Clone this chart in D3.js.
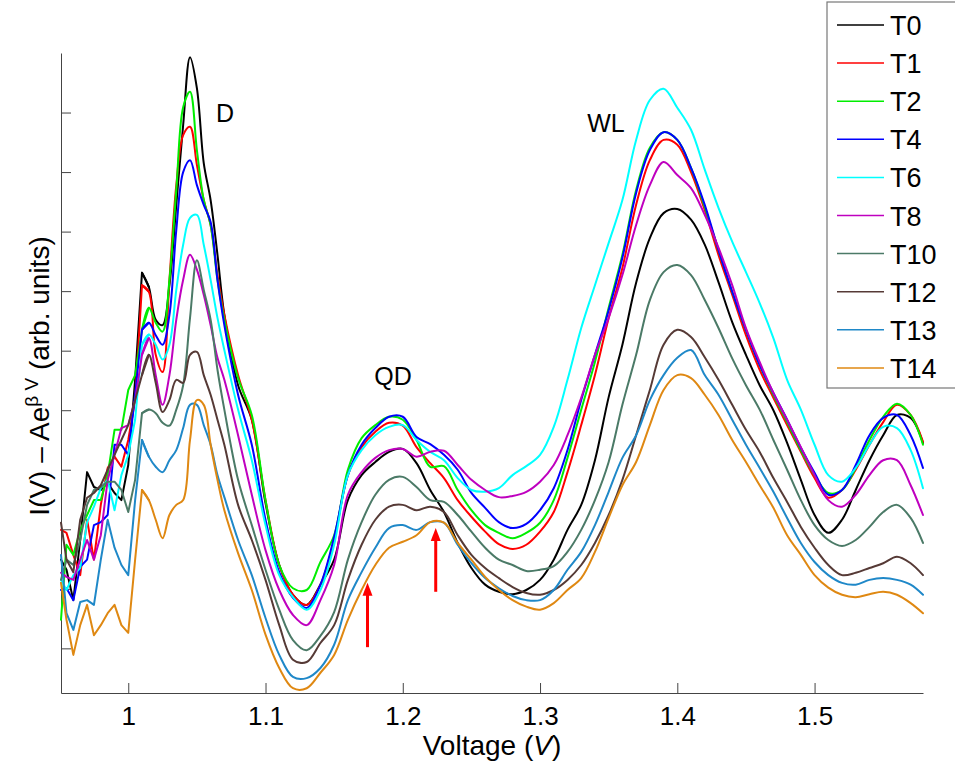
<!DOCTYPE html>
<html><head><meta charset="utf-8">
<script src="https://cdn.jsdelivr.net/npm/d3@7"></script>
<style>
html,body{margin:0;padding:0;background:#fff;}
svg{display:block;font-family:"Liberation Sans",Arial,Helvetica,sans-serif;}
</style></head><body>
<svg id="chart" width="955" height="765"></svg>
<script>
// ---------- DATA ----------
const voltage = [0.951,0.955,0.96,0.965,0.97,0.975,0.98,0.985,0.99,0.995,
  1.0,1.005,1.01,1.015,1.02,1.025,1.03,1.035,1.04,1.045,
  1.05,1.055,1.06,1.065,1.07,
  1.08,1.09,1.10,1.11,1.12,1.13,1.14,1.15,1.16,1.17,
  1.18,1.19,1.20,1.21,1.22,1.23,1.24,1.25,1.26,1.27,
  1.28,1.29,1.30,1.31,1.32,1.33,1.34,1.35,1.36,1.37,
  1.38,1.39,1.40,1.41,1.42,1.43,1.44,1.45,1.46,1.47,
  1.48,1.49,1.50,1.51,1.52,1.53,1.54,1.55,1.56,1.57,1.579];

const seriesNames = ["T0","T1","T2","T4","T6","T8","T10","T12","T13","T14"];
const seriesColors = ["#000000","#ff0000","#00ee00","#0000ff","#00ffff","#bf00bf","#4b7a67","#563a36","#1f88c8","#df8812"];

const T0 = [1.49,1.32,0.81,1.82,2.96,2.71,2.66,2.78,2.61,2.49,
  3.08,4.51,6.31,6.07,5.52,5.43,6.10,7.45,8.79,9.93,
  9.41,8.15,7.53,6.61,5.60,
  4.42,3.84,2.44,1.40,0.90,0.73,1.07,1.49,2.49,2.91,
  3.13,3.30,3.35,3.11,2.66,2.29,1.77,1.35,1.07,0.95,
  0.91,0.98,1.15,1.49,1.99,2.41,3.16,4.22,5.10,6.14,
  6.89,7.31,7.38,7.20,6.78,6.15,5.48,4.93,4.42,4.00,
  3.45,2.83,2.24,1.94,2.16,2.66,3.16,3.58,3.92,3.87,3.45];
const T1 = [1.99,1.94,1.57,1.23,2.16,1.49,2.41,3.03,3.22,3.05,
  3.50,4.17,6.10,5.99,4.93,4.64,6.19,7.78,8.62,8.76,
  8.12,7.53,7.11,6.27,5.60,
  4.59,3.84,2.49,1.40,0.90,0.73,1.07,1.82,2.91,3.38,
  3.64,3.79,3.74,3.38,3.11,2.86,2.49,2.21,1.96,1.75,
  1.67,1.74,1.96,2.29,2.96,3.75,4.59,5.55,6.39,7.45,
  8.20,8.54,8.46,8.00,7.36,6.61,5.94,5.26,4.68,4.21,
  3.75,3.30,2.86,2.53,2.66,3.00,3.42,3.80,4.09,3.92,3.47];
const T2 = [0.48,1.74,1.57,1.99,2.24,2.49,2.49,2.91,3.67,3.67,
  4.34,4.59,5.35,5.72,5.47,5.32,6.19,7.70,9.09,9.35,
  8.37,7.53,7.11,6.19,5.52,
  4.54,3.92,2.49,1.40,1.01,0.98,1.45,1.90,3.00,3.53,
  3.75,3.89,3.84,3.50,3.05,3.06,2.66,2.32,2.07,1.94,
  1.85,1.94,2.11,2.49,3.20,4.01,4.81,5.72,6.61,7.70,
  8.41,8.67,8.54,8.07,7.41,6.69,5.99,5.35,4.76,4.26,
  3.80,3.33,2.91,2.61,2.66,3.03,3.50,3.89,4.11,3.92,3.42];
const T4 = [0.98,1.01,0.81,1.37,1.49,2.07,2.12,2.24,3.42,3.42,
  3.25,4.26,5.35,5.47,5.26,5.10,5.60,7.03,8.00,8.20,
  7.78,7.45,7.16,6.19,5.43,
  4.26,3.42,2.16,1.28,0.85,0.68,1.07,1.87,2.91,3.42,
  3.70,3.89,3.89,3.55,3.43,3.25,3.00,2.61,2.36,2.12,
  2.02,2.09,2.32,2.69,3.33,4.17,4.93,5.68,6.56,7.65,
  8.37,8.67,8.54,8.07,7.45,6.69,5.99,5.35,4.76,4.29,
  3.84,3.37,2.95,2.58,2.66,3.08,3.58,3.87,3.92,3.58,3.03];
const T6 = [1.15,0.98,1.23,1.35,2.12,2.38,2.69,2.83,2.32,2.91,
  3.25,3.84,5.10,5.27,5.10,4.85,5.10,6.02,6.78,7.23,
  7.28,6.78,6.19,5.55,5.01,
  4.01,3.16,2.07,1.23,0.86,0.65,0.98,1.74,2.91,3.33,
  3.58,3.72,3.75,3.50,3.30,3.16,2.86,2.66,2.63,2.69,
  2.91,3.06,3.25,3.72,4.51,5.38,6.10,6.81,7.53,8.54,
  9.21,9.40,9.08,8.71,8.04,7.40,6.83,6.32,5.80,5.21,
  4.51,4.01,3.42,2.91,2.80,3.03,3.42,3.72,3.70,3.33,2.69];
const T8 = [1.27,1.20,1.15,1.49,1.82,1.49,1.90,2.83,3.25,3.70,
  3.75,4.17,4.93,5.21,4.59,4.09,4.59,5.52,6.19,6.61,
  6.36,5.94,5.43,4.88,4.51,
  3.58,2.58,1.65,0.98,0.56,0.39,0.81,1.40,2.58,2.96,
  3.20,3.33,3.35,3.22,3.30,3.32,3.08,2.83,2.66,2.54,
  2.56,2.63,2.80,3.08,3.58,4.21,4.93,5.55,6.27,7.11,
  7.78,8.17,7.95,7.73,7.28,6.73,6.10,5.38,4.81,4.29,
  3.84,3.38,2.91,2.49,2.38,2.58,2.91,3.16,3.16,2.74,2.24];
const T10 = [1.15,1.49,1.40,1.82,2.41,2.66,2.71,2.80,2.80,2.66,
  2.29,2.83,3.95,4.01,3.95,3.79,3.74,4.01,4.42,5.55,
  6.52,6.02,5.52,4.68,4.01,
  2.83,2.07,1.32,0.65,0.14,-0.03,0.21,0.61,1.49,2.12,
  2.58,2.83,2.88,2.71,2.49,2.46,2.24,1.96,1.69,1.49,
  1.40,1.30,1.32,1.38,1.62,1.99,2.49,3.13,4.09,4.93,
  5.85,6.32,6.44,6.27,5.85,5.38,4.87,4.42,4.01,3.50,
  3.00,2.49,2.07,1.82,1.72,1.82,2.04,2.29,2.41,2.19,1.77];
const T12 = [2.11,1.49,1.28,2.16,2.53,2.61,2.74,3.00,3.25,3.50,
  3.75,4.17,4.59,4.93,4.46,3.97,4.17,4.51,4.46,4.93,
  4.98,4.59,4.26,3.84,3.42,
  2.41,1.82,1.15,0.39,-0.19,-0.23,0.09,0.39,1.15,1.74,
  2.16,2.38,2.41,2.32,2.38,2.29,1.90,1.57,1.35,1.18,
  1.03,0.93,0.90,0.98,1.15,1.40,1.77,2.24,2.83,3.58,
  4.34,5.10,5.35,5.23,4.89,4.51,4.09,3.67,3.30,2.86,
  2.46,2.04,1.69,1.40,1.23,1.27,1.35,1.43,1.54,1.43,1.23];
const T13 = [1.57,0.59,0.31,0.78,0.81,0.73,1.49,2.16,1.69,1.40,
  1.23,2.49,3.50,3.22,3.05,2.96,3.16,3.33,3.70,4.09,
  4.09,3.75,3.42,2.91,2.54,
  1.82,1.23,0.51,-0.11,-0.48,-0.50,-0.33,0.06,0.81,1.28,
  1.69,2.02,2.07,1.99,2.12,2.11,1.74,1.43,1.18,1.01,
  0.88,0.81,0.81,0.98,1.32,1.62,2.07,2.63,3.20,3.58,
  4.17,4.59,4.88,5.01,4.59,4.26,3.84,3.42,3.03,2.63,
  2.19,1.77,1.45,1.23,1.10,1.07,1.15,1.18,1.15,1.07,0.90];
const T14 = [1.10,0.48,-0.11,0.39,0.73,0.22,0.39,0.59,0.73,0.39,
  0.26,1.49,2.66,2.49,2.16,1.85,2.24,2.41,2.49,3.50,
  4.17,4.09,3.42,2.83,2.32,
  1.60,0.98,0.23,-0.33,-0.67,-0.67,-0.41,-0.11,0.48,0.98,
  1.40,1.69,1.79,1.90,2.12,2.11,1.77,1.49,1.20,0.98,
  0.81,0.70,0.65,0.76,0.98,1.18,1.62,2.19,2.74,3.13,
  3.75,4.34,4.59,4.54,4.26,3.92,3.50,3.13,2.74,2.36,
  1.90,1.57,1.23,1.02,0.90,0.86,0.91,0.95,0.90,0.76,0.59];

const seriesValues = [T0,T1,T2,T4,T6,T8,T10,T12,T13,T14];

const xTicks = [1,1.1,1.2,1.3,1.4,1.5];
const xTickLabels = ["1","1.1","1.2","1.3","1.4","1.5"];
const yTicks = [0,1,2,3,4,5,6,7,8,9];

// annotations: [label, voltage, value]
const peakLabels = [["D",1.0705,8.84],["QD",1.1929,4.42],["WL",1.348,8.67]];
// arrows: [voltage, tail value, tip value]
const arrows = [[1.1743,0.02,1.10],[1.2240,0.95,2.02]];

// ---------- CHART ----------
const svg = d3.select("#chart");
const x = d3.scaleLinear().domain([0.951,1.579]).range([61,923]);
const y = d3.scaleLinear().domain([-0.75,10]).range([693,53]);

const axisColor = "#444";

const gx = svg.append("g").attr("transform","translate(0,"+y(-0.75)+")")
  .call(d3.axisBottom(x).tickValues(xTicks).tickFormat((d,i)=>xTickLabels[i])
    .tickSizeInner(-10).tickSizeOuter(0).tickPadding(14));
gx.select(".domain").attr("stroke",axisColor);
gx.selectAll(".tick line").attr("stroke",axisColor);
gx.selectAll(".tick text").attr("fill","#000").style("font-size","26px")
  .style("font-family","'Liberation Sans',Arial,sans-serif");

const gy = svg.append("g").attr("transform","translate("+x(0.951)+",0)")
  .call(d3.axisLeft(y).tickValues(yTicks).tickFormat("")
    .tickSizeInner(-10).tickSizeOuter(0));
gy.select(".domain").attr("stroke",axisColor);
gy.selectAll(".tick line").attr("stroke",axisColor);

// noisy low-voltage part drawn with straight segments, smooth part with a spline
const splitIndex = 12;
const lineNoisy = d3.line()
  .x(d=>x(d.v)).y(d=>y(d.i))
  .curve(d3.curveLinear);
const lineSmooth = d3.line()
  .x(d=>x(d.v)).y(d=>y(d.i))
  .curve(d3.curveCatmullRom.alpha(0.5));

const gl = svg.append("g");
seriesValues.forEach((vals,k)=>{
  const pts = vals.map((val,j)=>({v:voltage[j], i:val}));
  const p1 = pts.slice(0, splitIndex+2);
  const p2 = pts.slice(splitIndex);
  [ [p1,lineNoisy], [p2,lineSmooth] ].forEach(([p,gen])=>{
    gl.append("path").attr("d",gen(p))
      .attr("fill","none")
      .attr("stroke",seriesColors[k])
      .attr("stroke-width",2)
      .attr("stroke-linejoin","round")
      .attr("stroke-linecap","round");
  });
});

// peak labels
svg.append("g").selectAll("text").data(peakLabels).join("text")
  .attr("x",d=>x(d[1])).attr("y",d=>y(d[2]))
  .attr("text-anchor","middle")
  .style("font-size","25px").attr("fill","#000")
  .text(d=>d[0]);

// red arrows
const ga = svg.append("g");
arrows.forEach(a=>{
  const ax = x(a[0]), yTail = y(a[1]), yTip = y(a[2]);
  ga.append("line").attr("x1",ax).attr("x2",ax)
    .attr("y1",yTail).attr("y2",yTip+11)
    .attr("stroke","#ff0000").attr("stroke-width",3);
  ga.append("path")
    .attr("d","M"+ax+","+yTip+"L"+(ax-5)+","+(yTip+13)+"L"+(ax+5)+","+(yTip+13)+"Z")
    .attr("fill","#ff0000");
});

// axis labels
svg.append("text")
  .attr("x",492).attr("y",755)
  .attr("text-anchor","middle")
  .style("font-size","28px").attr("fill","#000")
  .html('Voltage (<tspan font-style="italic">V</tspan>)');

svg.append("text")
  .attr("transform","translate(49,376) rotate(-90)")
  .attr("text-anchor","middle")
  .style("font-size","28px").attr("fill","#000")
  .html('I(V) – Ae<tspan dy="-11" font-size="19px">β V</tspan><tspan dy="11"> (arb. units)</tspan>');

// legend
const lg = svg.append("g");
lg.append("rect").attr("x",827).attr("y",2).attr("width",140).attr("height",386)
  .attr("fill","#fff").attr("stroke","#777").attr("stroke-width",1.2);
seriesNames.forEach((n,i)=>{
  const ly = 25 + i*38.1;
  lg.append("line").attr("x1",837).attr("x2",884).attr("y1",ly).attr("y2",ly)
    .attr("stroke",seriesColors[i]).attr("stroke-width",1.5);
  lg.append("text").attr("x",890).attr("y",ly+10)
    .style("font-size","27px").attr("fill","#000").text(n);
});
</script>
</body></html>
